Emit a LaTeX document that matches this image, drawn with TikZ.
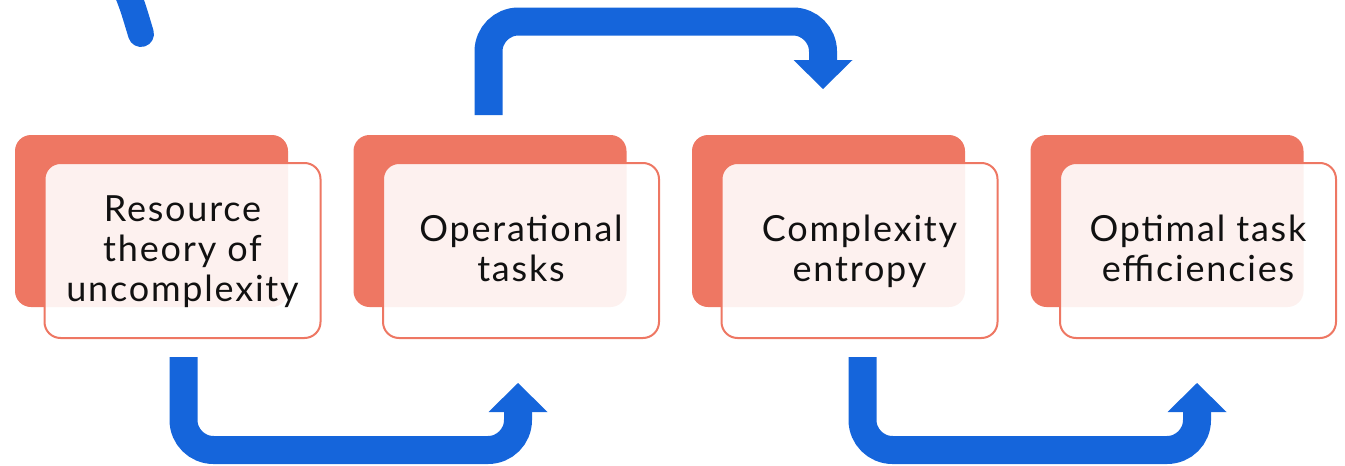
\documentclass[tikz,border=0pt]{standalone}
\usepackage{fontspec}
\usetikzlibrary{calc}
\newfontfamily\cardfont{Lato}[LetterSpace=5]
\definecolor{salmon}{RGB}{238,119,99}
\definecolor{flowblue}{RGB}{21,101,219}
\definecolor{inkblack}{RGB}{17,17,17}

\begin{document}
\begin{tikzpicture}[x=1pt,y=-1pt,
  backcard/.style={rectangle, fill=salmon, draw=none, rounded corners=16pt,
    minimum width=273pt, minimum height=172pt, inner sep=0pt},
  frontcard/.style={rectangle, fill=white, fill opacity=0.9, draw=salmon,
    line width=2pt, rounded corners=16pt,
    minimum width=276pt, minimum height=175pt, inner sep=0pt},
  cardtext/.style={align=center, text=inkblack, inner sep=0pt,
    font=\cardfont\fontsize{36}{40}\selectfont},
  flow/.style={draw=flowblue, line width=28pt, rounded corners=30pt},
  flowtail/.style={draw=flowblue, line width=26pt, line cap=round}]

\useasboundingbox (0,0) rectangle (1345,466);
\clip (0,0) rectangle (1345,466);

% cards
\node[backcard]  (b1) at (151.5,221) {};
\node[frontcard] (f1) at (182.5,250.5) {};
\node[cardtext]  (t1) at (182.5,253.5) {\strut Resource\\theory of\\uncomplexity\strut};

\node[backcard]  (b2) at (490,221) {};
\node[frontcard] (f2) at (521,250.5) {};
\node[cardtext]  (t2) at (521,253.5) {\strut Operational\\tasks\strut};

\node[backcard]  (b3) at (828.5,221) {};
\node[frontcard] (f3) at (859.5,250.5) {};
\node[cardtext]  (t3) at (859.5,253.5) {\strut Complexity\\entropy\strut};

\node[backcard]  (b4) at (1167,221) {};
\node[frontcard] (f4) at (1198,250.5) {};
\node[cardtext]  (t4) at (1198,253.5) {\strut Optimal task\\efficiencies\strut};

% end of an incoming connector at the top left
\coordinate (tailA) at (122,-20);
\coordinate (tailB) at (141,34);
\draw[flowtail] (tailA) .. controls (132,4) .. (tailB);

% connector 1 -> 2 (below)
\coordinate (a1s) at (183.5,357);
\coordinate (a1c) at (183.5,450);
\coordinate (a1d) at (518,450);
\coordinate (a1e) at (518,411);
\draw[flow] (a1s) -- (a1c) -- (a1d) -- (a1e);
\fill[flowblue] ($(a1e)+(-29.5,1)$) -- ($(a1e)+(29.5,1)$) -- ($(a1e)+(0,-28)$) -- cycle;

% connector 2 -> 3 (above)
\coordinate (a2s) at (488.5,115);
\coordinate (a2c) at (488.5,21.5);
\coordinate (a2d) at (823,21.5);
\coordinate (a2e) at (823,61);
\draw[flow] (a2s) -- (a2c) -- (a2d) -- (a2e);
\fill[flowblue] ($(a2e)+(-29.5,-1)$) -- ($(a2e)+(29.5,-1)$) -- ($(a2e)+(0,28)$) -- cycle;

% connector 3 -> 4 (below)
\coordinate (a3s) at (862.5,357);
\coordinate (a3c) at (862.5,450);
\coordinate (a3d) at (1197,450);
\coordinate (a3e) at (1197,411);
\draw[flow] (a3s) -- (a3c) -- (a3d) -- (a3e);
\fill[flowblue] ($(a3e)+(-29.5,1)$) -- ($(a3e)+(29.5,1)$) -- ($(a3e)+(0,-28)$) -- cycle;

\end{tikzpicture}
\end{document}
